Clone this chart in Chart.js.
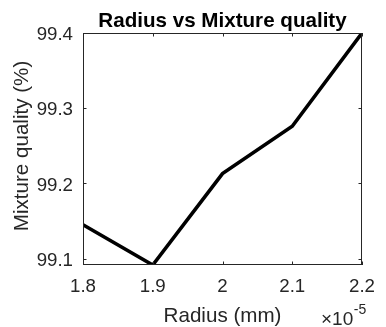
<!DOCTYPE html>
<html>
<head>
<meta charset="utf-8">
<script src="https://cdn.jsdelivr.net/npm/chart.js@4"></script>
<style>
  html, body { margin: 0; padding: 0; background: #fff; }
  #wrap { width: 386px; height: 327px; }
</style>
</head>
<body>
<div id="wrap"><canvas id="radiusChart" width="386" height="327"></canvas></div>
<script>
// radius in units of 1e-5 mm (axis shows x10^-5)
const radius = [1.8, 1.9, 2.0, 2.1, 2.2];
const mixtureQuality = [99.145, 99.0915, 99.213, 99.276, 99.4];
const xTicks = [1.8, 1.9, 2.0, 2.1, 2.2];
const yTicks = [99.1, 99.2, 99.3, 99.4];
const xExponent = '-5';

const FONT = "'Liberation Sans', Arial, Helvetica, sans-serif";
const AXIS_COLOR = '#262626';

// box, inward ticks and the text labels drawn MATLAB style
const matlabAxes = {
    id: 'matlabAxes',
    afterDraw(chart) {
        const ctx = chart.ctx;
        const area = chart.chartArea;
        const xs = chart.scales.x;
        const ys = chart.scales.y;
        const tick = 3.5;

        ctx.save();
        ctx.strokeStyle = AXIS_COLOR;
        ctx.lineWidth = 1;
        ctx.strokeRect(area.left + 0.5, area.top + 0.5, area.right - area.left - 1, area.bottom - area.top - 1);

        ctx.beginPath();
        xTicks.forEach(v => {
            const px = Math.round(xs.getPixelForValue(v)) + 0.5;
            ctx.moveTo(px, area.bottom);
            ctx.lineTo(px, area.bottom - tick);
            ctx.moveTo(px, area.top);
            ctx.lineTo(px, area.top + tick);
        });
        yTicks.forEach(v => {
            const py = Math.round(ys.getPixelForValue(v)) + 0.5;
            ctx.moveTo(area.left, py);
            ctx.lineTo(area.left + tick, py);
            ctx.moveTo(area.right, py);
            ctx.lineTo(area.right - tick, py);
        });
        ctx.stroke();

        const cx = (area.left + area.right) / 2;

        // title
        ctx.fillStyle = '#000';
        ctx.font = 'bold 20.6px ' + FONT;
        ctx.textAlign = 'center';
        ctx.textBaseline = 'alphabetic';
        ctx.fillText('Radius vs Mixture quality', cx, 27);

        // x label
        ctx.fillStyle = AXIS_COLOR;
        ctx.font = '20.6px ' + FONT;
        ctx.fillText('Radius (mm)', cx, 322);

        // exponent
        ctx.textAlign = 'left';
        ctx.font = '19px ' + FONT;
        ctx.fillText('\u00d710', 321, 325);
        const w = ctx.measureText('\u00d710').width;
        ctx.font = '14px ' + FONT;
        ctx.fillText(xExponent, 321 + w + 0.5, 314);

        // y label
        ctx.save();
        ctx.translate(28, (area.top + area.bottom) / 2 - 3);
        ctx.rotate(-Math.PI / 2);
        ctx.textAlign = 'center';
        ctx.font = '20.6px ' + FONT;
        ctx.fillText('Mixture quality (%)', 0, 0);
        ctx.restore();

        ctx.restore();
    }
};

new Chart(document.getElementById('radiusChart'), {
    type: 'line',
    data: {
        datasets: [{
            data: radius.map((r, i) => ({ x: r, y: mixtureQuality[i] })),
            borderColor: '#000',
            borderWidth: 3.6,
            pointRadius: 0,
            tension: 0,
            fill: false
        }]
    },
    options: {
        responsive: false,
        animation: false,
        events: [],
        layout: { padding: { top: 33, right: 15, left: 0, bottom: 0 } },
        plugins: {
            legend: { display: false },
            title: { display: false },
            tooltip: { enabled: false }
        },
        scales: {
            x: {
                type: 'linear',
                min: 1.8,
                max: 2.2,
                grid: { display: false, drawTicks: false },
                border: { display: false },
                afterBuildTicks: s => { s.ticks = xTicks.map(v => ({ value: v })); },
                afterFit: s => { s.height = 62; },
                ticks: {
                    padding: 11,
                    color: AXIS_COLOR,
                    font: { family: FONT, size: 18.7 },
                    maxRotation: 0,
                    callback: v => String(Number(v.toFixed(1)))
                }
            },
            y: {
                type: 'linear',
                min: 99.0915,
                max: 99.4,
                grid: { display: false, drawTicks: false },
                border: { display: false },
                afterBuildTicks: s => { s.ticks = yTicks.map(v => ({ value: v })); },
                afterFit: s => { s.width = 83; },
                ticks: {
                    padding: 10,
                    labelOffset: 2,
                    color: AXIS_COLOR,
                    font: { family: FONT, size: 18.7 },
                    callback: v => v.toFixed(1)
                }
            }
        }
    },
    plugins: [matlabAxes]
});
</script>
</body>
</html>
